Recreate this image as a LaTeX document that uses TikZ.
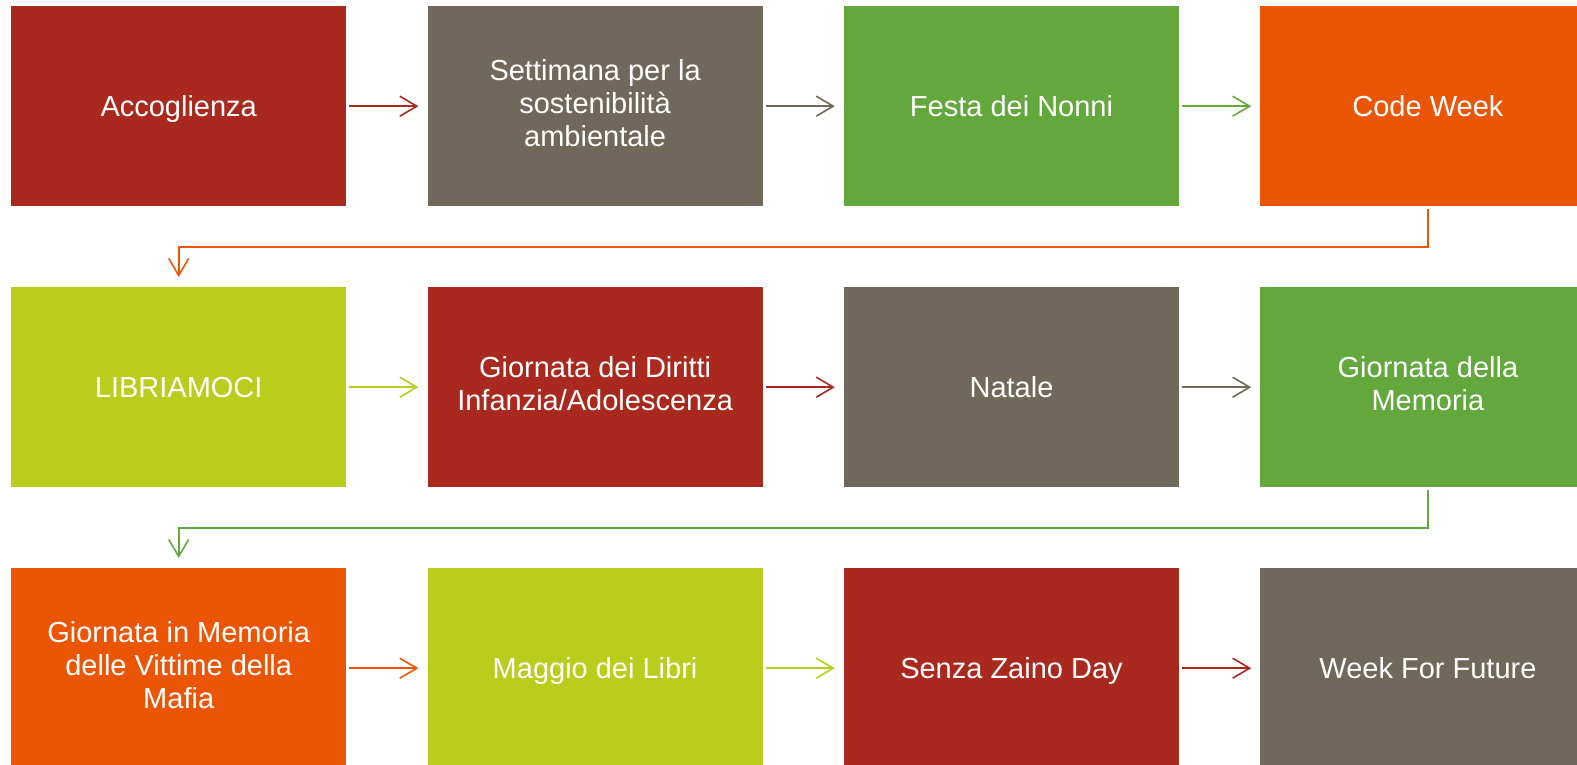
\documentclass[tikz,border=0pt]{standalone}
\usepackage{fontspec}
\setmainfont{Liberation Sans}
\usetikzlibrary{arrows.meta}
\definecolor{cred}{RGB}{169,41,30}
\definecolor{ctaupe}{RGB}{112,104,91}
\definecolor{cgreen}{RGB}{99,168,60}
\definecolor{corange}{RGB}{234,85,6}
\definecolor{clime}{RGB}{186,204,28}
\newcommand{\boxstrut}{\rule[-6.5pt]{0pt}{33pt}}
\tikzset{
  box/.style={rectangle, anchor=north west, minimum width=335pt, minimum height=200pt,
    inner sep=0pt, text=white, align=center, font=\fontsize{29}{33}\selectfont,
    execute at begin node={\boxstrut}, execute at end node={\boxstrut}},
  arr/.style={line width=1.6pt, -{Straight Barb[length=17pt,width=20pt,line width=1.6pt]},
    shorten <=3pt, shorten >=9pt},
  elbow/.style={line width=1.8pt, -{Straight Barb[length=17pt,width=20pt,line width=1.6pt]},
    shorten <=3pt, shorten >=10pt},
}
\begin{document}
\begin{tikzpicture}[x=1pt,y=-1pt]
\useasboundingbox (0,0) rectangle (1577,765);
\clip (0,0) rectangle (1577,765);
% row 1
\node[box, fill=cred]    (a1) at (11,6)     {Accoglienza};
\node[box, fill=ctaupe]  (a2) at (427.4,6)  {Settimana per la\\sostenibilità\\ambientale};
\node[box, fill=cgreen]  (a3) at (843.8,6)  {Festa dei Nonni};
\node[box, fill=corange] (a4) at (1260.2,6) {Code Week};
% row 2
\node[box, fill=clime]   (b1) at (11,287)     {LIBRIAMOCI};
\node[box, fill=cred]    (b2) at (427.4,287)  {Giornata dei Diritti\\Infanzia/Adolescenza};
\node[box, fill=ctaupe]  (b3) at (843.8,287)  {Natale};
\node[box, fill=cgreen]  (b4) at (1260.2,287) {Giornata della\\Memoria};
% row 3
\node[box, fill=corange] (c1) at (11,568)     {Giornata in Memoria\\delle Vittime della\\Mafia};
\node[box, fill=clime]   (c2) at (427.4,568)  {Maggio dei Libri};
\node[box, fill=cred]    (c3) at (843.8,568)  {Senza Zaino Day};
\node[box, fill=ctaupe]  (c4) at (1260.2,568) {Week For Future};
% arrows
\draw[arr, cred]    (a1.east) -- (a2.west);
\draw[arr, ctaupe]  (a2.east) -- (a3.west);
\draw[arr, cgreen]  (a3.east) -- (a4.west);
\draw[elbow, corange] (a4.south) -- ++(0,40.5) -| (b1.north);
\draw[arr, clime]   (b1.east) -- (b2.west);
\draw[arr, cred]    (b2.east) -- (b3.west);
\draw[arr, ctaupe]  (b3.east) -- (b4.west);
\draw[elbow, cgreen] (b4.south) -- ++(0,40.5) -| (c1.north);
\draw[arr, corange] (c1.east) -- (c2.west);
\draw[arr, clime]   (c2.east) -- (c3.west);
\draw[arr, cred]    (c3.east) -- (c4.west);
\end{tikzpicture}
\end{document}
